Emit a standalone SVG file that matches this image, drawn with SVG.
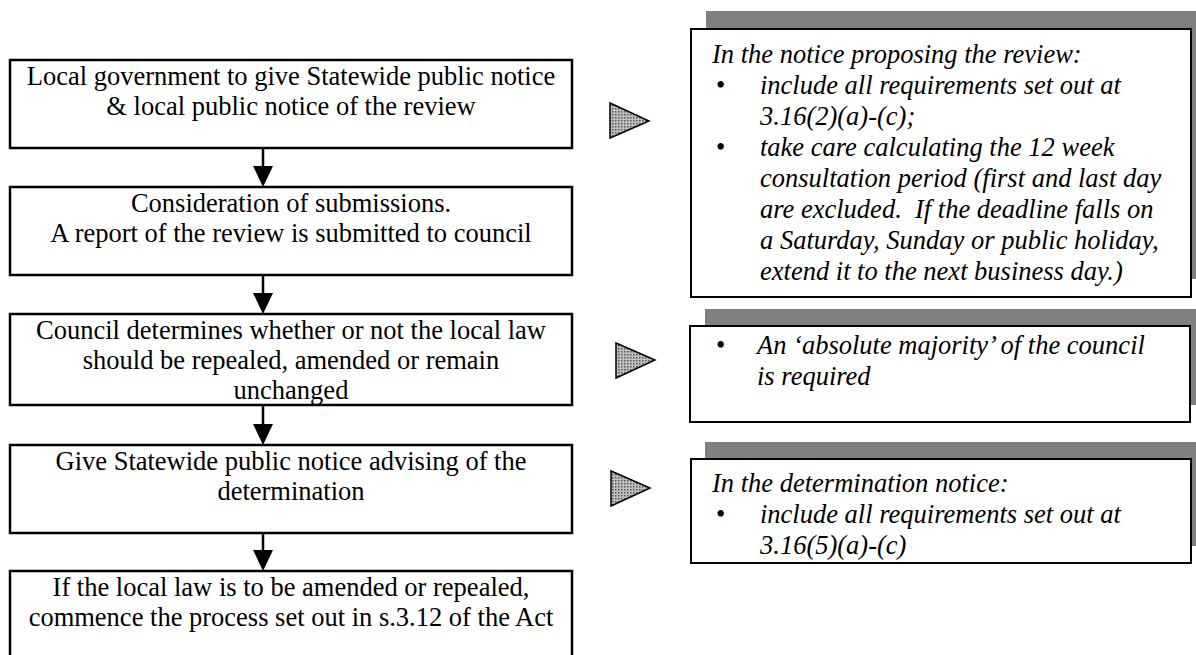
<svg xmlns="http://www.w3.org/2000/svg" width="1196" height="655" viewBox="0 0 1196 655">
<style>
.box{fill:#fff;stroke:#000;stroke-width:2.5}
.note{fill:#fff;stroke:#000;stroke-width:2}
.shadow{fill:#808080}
.t{font-family:"Liberation Serif","Times New Roman",serif;font-size:26.5px;fill:#000}
.c{text-anchor:middle}
.i{font-style:italic}
.line{stroke:#000;stroke-width:2.5;fill:none}
.head{fill:#000}
.tri{fill:url(#dots);stroke:#000;stroke-width:1.5}
</style>
<defs>
<pattern id="dots" width="3" height="3" patternUnits="userSpaceOnUse">
<rect width="3" height="3" fill="#c0c0c0"/>
<rect width="1.5" height="1.5" fill="#555"/>
</pattern>
</defs>
<rect width="1196" height="655" fill="#fff"/>

<g id="connectors">
<line class="line" x1="263" y1="148" x2="263" y2="168"/>
<polygon class="head" points="253,166 273,166 263,187"/>
<line class="line" x1="263" y1="275" x2="263" y2="295"/>
<polygon class="head" points="253,293 273,293 263,314"/>
<line class="line" x1="263" y1="405" x2="263" y2="426"/>
<polygon class="head" points="253,424 273,424 263,445"/>
<line class="line" x1="263" y1="533" x2="263" y2="552"/>
<polygon class="head" points="253,550 273,550 263,571"/>
<polygon class="tri" points="610,103 649,121 610,138"/>
<polygon class="tri" points="616,343 655,360 616,378"/>
<polygon class="tri" points="611,471 650,488 611,506"/>
</g>

<g id="step1">
<rect class="box" x="10" y="60" width="562" height="88"/>
<text class="t c" x="291" y="85">Local government to give Statewide public notice</text>
<text class="t c" x="291" y="115">&amp; local public notice of the review</text>
</g>
<g id="step2">
<rect class="box" x="10" y="187" width="562" height="88"/>
<text class="t c" x="291" y="212">Consideration of submissions.</text>
<text class="t c" x="291" y="242">A report of the review is submitted to council</text>
</g>
<g id="step3">
<rect class="box" x="10" y="314" width="562" height="91"/>
<text class="t c" x="291" y="339">Council determines whether or not the local law</text>
<text class="t c" x="291" y="369">should be repealed, amended or remain</text>
<text class="t c" x="291" y="399">unchanged</text>
</g>
<g id="step4">
<rect class="box" x="10" y="445" width="562" height="88"/>
<text class="t c" x="291" y="470">Give Statewide public notice advising of the</text>
<text class="t c" x="291" y="500">determination</text>
</g>
<g id="step5">
<rect class="box" x="10" y="571" width="562" height="92"/>
<text class="t c" x="291" y="596">If the local law is to be amended or repealed,</text>
<text class="t c" x="291" y="626">commence the process set out in s.3.12 of the Act</text>
</g>

<g id="note1">
<rect class="shadow" x="706" y="11" width="500" height="268"/>
<rect class="note" x="691" y="29" width="500" height="268"/>
<text class="t i" x="712" y="63">In the notice proposing the review:</text>
<text class="t" x="716" y="94">•</text>
<text class="t i" x="760" y="94">include all requirements set out at</text>
<text class="t i" x="760" y="125">3.16(2)(a)-(c);</text>
<text class="t" x="716" y="156">•</text>
<text class="t i" x="760" y="156">take care calculating the 12 week</text>
<text class="t i" x="760" y="187">consultation period (first and last day</text>
<text class="t i" x="760" y="218">are excluded.&#160; If the deadline falls on</text>
<text class="t i" x="760" y="249">a Saturday, Sunday or public holiday,</text>
<text class="t i" x="760" y="280">extend it to the next business day.)</text>
</g>
<g id="note2">
<rect class="shadow" x="705" y="309" width="500" height="96"/>
<rect class="note" x="690" y="326" width="500" height="96"/>
<text class="t" x="716" y="354">•</text>
<text class="t i" x="757" y="354">An ‘absolute majority’ of the council</text>
<text class="t i" x="757" y="385">is required</text>
</g>
<g id="note3">
<rect class="shadow" x="705" y="442" width="500" height="104"/>
<rect class="note" x="691" y="459" width="500" height="104"/>
<text class="t i" x="712" y="492">In the determination notice:</text>
<text class="t" x="716" y="523">•</text>
<text class="t i" x="760" y="523">include all requirements set out at</text>
<text class="t i" x="760" y="554">3.16(5)(a)-(c)</text>
</g>
</svg>
